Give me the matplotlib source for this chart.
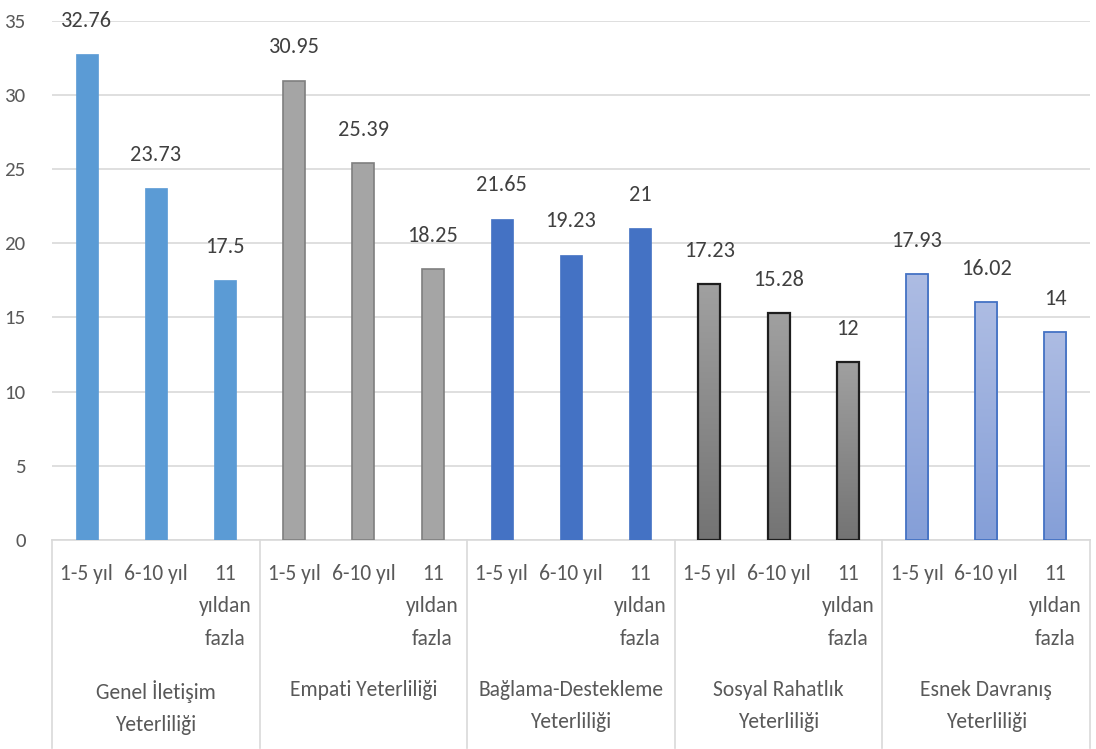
import numpy as np
import matplotlib.pyplot as plt
from matplotlib.colors import LinearSegmentedColormap

# Scores by years of experience for each competence dimension
groups = ['Genel İletişim\nYeterliliği', 'Empati Yeterliliği',
          'Bağlama-Destekleme\nYeterliliği', 'Sosyal Rahatlık\nYeterliliği',
          'Esnek Davranış\nYeterliliği']
periods = ['1-5 yıl', '6-10 yıl', '11\nyıldan\nfazla']

genel = [32.76, 23.73, 17.5]
empati = [30.95, 25.39, 18.25]
baglama = [21.65, 19.23, 21]
sosyal = [17.23, 15.28, 12]
esnek = [17.93, 16.02, 14]
series = [genel, empati, baglama, sosyal, esnek]

FONT = ['Carlito', 'Liberation Sans Narrow', 'Roboto Condensed', 'DejaVu Sans']
TXT = '#595959'
GRID = '#D9D9D9'

W, H = 1096, 749
fig = plt.figure(figsize=(W / 100, H / 100), dpi=100)
left, right, top, bottom = 52, 1090, 20.6, 540
ax = fig.add_axes([left / W, 1 - bottom / H, (right - left) / W, (bottom - top) / H])

n_per = len(periods)
n = len(groups) * n_per
ax.set_xlim(-0.5, n - 0.5)
ax.set_ylim(0, 35)
ax.set_yticks(range(0, 36, 5))
ax.set_xticks([])
ax.tick_params(axis='y', length=0, pad=19, labelsize=15, labelcolor=TXT)
for lab in ax.get_yticklabels():
    lab.set_family(FONT)
ax.grid(axis='y', color=GRID, lw=1.2)
ax.set_axisbelow(True)
for s in ['top', 'right', 'left']:
    ax.spines[s].set_visible(False)
ax.spines['bottom'].set_color(GRID)
ax.spines['bottom'].set_linewidth(1.2)

# bar styles: (face, edge, linewidth, gradient top/bottom or None)
styles = [
    ('#5B9BD5', '#5B9BD5', 0.5, None),
    ('#A5A5A5', '#7F7F7F', 1.2, None),
    ('#4472C4', '#4472C4', 0.5, None),
    ('#8C8C8C', '#1E1E1E', 1.6, ('#A0A0A0', '#747474')),
    ('#9AAEDF', '#4472C4', 1.3, ('#ADBCE3', '#859FD8')),
]

bw = 0.32
xt = ax.get_xaxis_transform()
for g, (vals, (fc, ec, lw, grad)) in enumerate(zip(series, styles)):
    x = np.arange(n_per) + g * n_per
    bars = ax.bar(x, vals, width=bw, color=fc, edgecolor=ec, linewidth=lw, zorder=3)
    if grad is not None:
        cmap = LinearSegmentedColormap.from_list('g%d' % g, [grad[1], grad[0]])
        for b in bars:
            x0, y0 = b.get_x(), b.get_y()
            im = ax.imshow(np.linspace(0, 1, 64).reshape(-1, 1), cmap=cmap,
                           origin='lower', aspect='auto', interpolation='bilinear',
                           extent=[x0, x0 + b.get_width(), y0, y0 + b.get_height()],
                           zorder=3.5)
            im.set_clip_path(b)
            b.set_facecolor('none')
            b.set_zorder(4)
    for xi, v in zip(x, vals):
        ax.annotate(f'{v:g}', (xi, v), xytext=(0, 24), textcoords='offset points',
                    ha='center', va='center', fontsize=16, color='#404040',
                    family=FONT)
        ax.text(xi, -24 / 520, periods[xi % n_per], transform=xt, ha='center',
                va='top', fontsize=15.5, color=TXT, family=FONT, linespacing=1.78)
    ax.text(g * n_per + 1, -140 / 520, groups[g], transform=xt, ha='center',
            va='top', fontsize=15.5, color=TXT, family=FONT, linespacing=1.78)

# group separators below the axis
ax.set_xlim(-0.5, n - 0.5)
ax.set_ylim(0, 35)
for k in range(len(groups) + 1):
    ax.plot([k * n_per - 0.5] * 2, [0, -0.4], transform=xt, color=GRID,
            lw=1.2, clip_on=False)

fig.savefig('out.png', dpi=100)
